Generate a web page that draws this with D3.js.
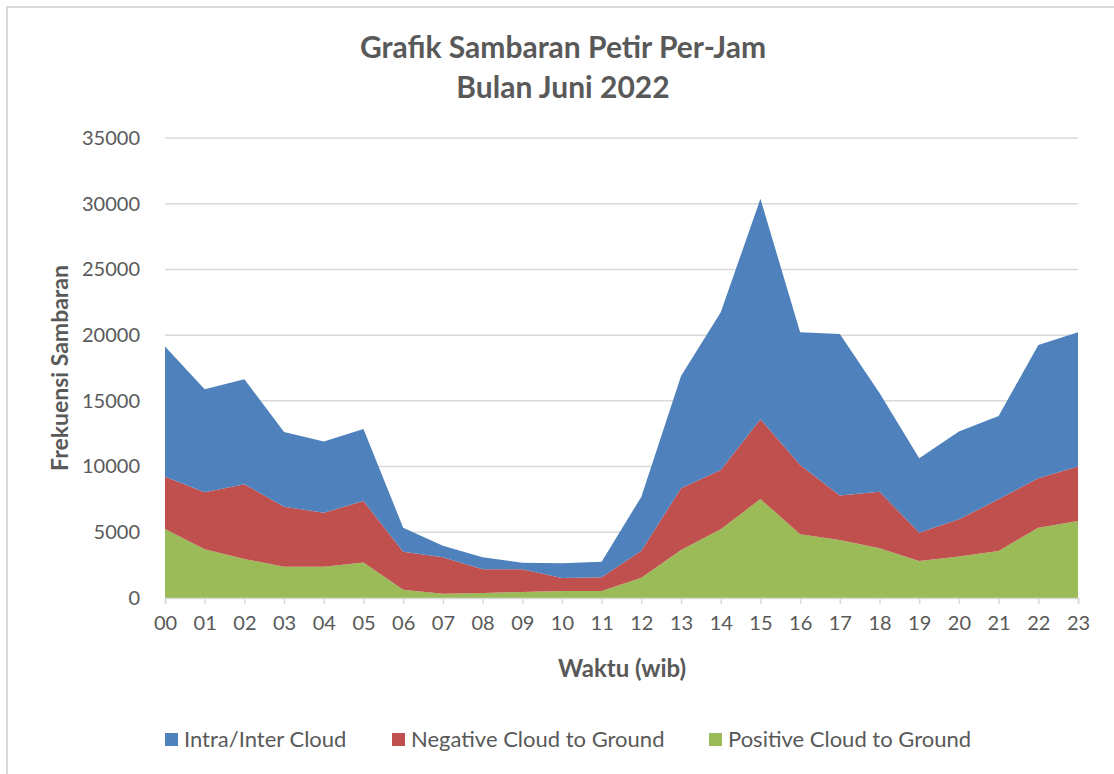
<!DOCTYPE html>
<html><head><meta charset="utf-8">
<script src="https://cdn.jsdelivr.net/npm/d3@7"></script>
<style>body{margin:0;background:#fff;}svg{display:block;}text{font-family:Lato,"Open Sans",sans-serif;fill:#595959;}</style>
</head><body><svg id="c" width="1114" height="774"></svg>
<script>
const hours = ["00","01","02","03","04","05","06","07","08","09","10","11","12","13","14","15","16","17","18","19","20","21","22","23"];
const positiveCG = [5250,3710,2970,2380,2380,2710,630,330,380,460,530,540,1550,3650,5230,7530,4850,4410,3780,2820,3150,3580,5350,5860];
const negativeCG = [3980,4330,5680,4570,4110,4670,2890,2770,1800,1720,990,1030,2050,4700,4510,6070,5270,3390,4310,2150,2840,3930,3760,4140];
const intraCloud = [9900,7840,7990,5680,5410,5480,1830,880,920,510,1120,1180,4110,8550,12000,16770,10100,12280,7510,5660,6670,6340,10140,10220];
const yTicks = [0,5000,10000,15000,20000,25000,30000,35000];
const seriesNames = ["Intra/Inter Cloud","Negative Cloud to Ground","Positive Cloud to Ground"];
const colors = {"Intra/Inter Cloud":"#4f81bd","Negative Cloud to Ground":"#c0504d","Positive Cloud to Ground":"#9bbb59"};

const svg = d3.select("#c");
// frame
svg.append("rect").attr("x",7).attr("y",7).attr("width",1120).attr("height",790)
  .attr("fill","none").attr("stroke","#d9d9d9").attr("stroke-width",2);

const L=165,R=1078,T=138,B=598;
const x = d3.scalePoint().domain(hours).range([L,R]);
const y = d3.scaleLinear().domain([0,35000]).range([B,T]);

// gridlines
svg.append("g").selectAll("line").data(yTicks.filter(d=>d>0)).join("line")
  .attr("x1",L).attr("x2",R).attr("y1",d=>y(d)).attr("y2",d=>y(d))
  .attr("stroke","#d9d9d9").attr("stroke-width",1.5);

// stacked data
const rows = hours.map((h,i)=>({hour:h,"Positive Cloud to Ground":positiveCG[i],"Negative Cloud to Ground":negativeCG[i],"Intra/Inter Cloud":intraCloud[i]}));
const stack = d3.stack().keys(["Positive Cloud to Ground","Negative Cloud to Ground","Intra/Inter Cloud"]);
const layers = stack(rows);
const area = d3.area().x(d=>x(d.data.hour)).y0(d=>y(d[0])).y1(d=>y(d[1]));
svg.append("g").selectAll("path").data(layers).join("path")
  .attr("d",area).attr("fill",d=>colors[d.key]);

// x axis line & ticks
const xa = svg.append("g").attr("transform",`translate(0,${B})`)
  .call(d3.axisBottom(x).tickSize(6).tickPadding(12));
xa.select(".domain").attr("stroke","#d9d9d9").attr("stroke-width",1.5);
xa.selectAll(".tick line").attr("stroke","#d9d9d9").attr("stroke-width",1.5);
xa.selectAll(".tick text").attr("font-size",20).attr("font-family","Lato").attr("fill","#595959");

// y axis labels
const ya = svg.append("g").attr("transform",`translate(${L},0)`)
  .call(d3.axisLeft(y).tickValues(yTicks).tickSize(0).tickPadding(25).tickFormat(d3.format("d")));
ya.select(".domain").remove();
ya.selectAll(".tick text").attr("font-size",20).attr("font-family","Lato").attr("fill","#595959");

// titles
svg.append("text").attr("x",563).attr("y",58).attr("text-anchor","middle")
  .attr("font-size",30).attr("font-weight","bold").text("Grafik Sambaran Petir Per-Jam");
svg.append("text").attr("x",563).attr("y",98).attr("text-anchor","middle")
  .attr("font-size",30).attr("font-weight","bold").text("Bulan Juni 2022");
svg.append("text").attr("x",622).attr("y",677).attr("text-anchor","middle")
  .attr("font-size",24).attr("font-weight","bold").text("Waktu (wib)");
svg.append("text").attr("transform","translate(68,368) rotate(-90)").attr("text-anchor","middle")
  .attr("font-size",23).attr("font-weight","bold").text("Frekuensi Sambaran");

// legend
const legX = [165,392,709];
const lg = svg.append("g").selectAll("g").data(seriesNames).join("g")
  .attr("transform",(d,i)=>`translate(${legX[i]},733)`);
lg.append("rect").attr("width",13).attr("height",13).attr("fill",d=>colors[d]);
lg.append("text").attr("x",19).attr("y",14).attr("font-size",22).text(d=>d);
</script></body></html>
